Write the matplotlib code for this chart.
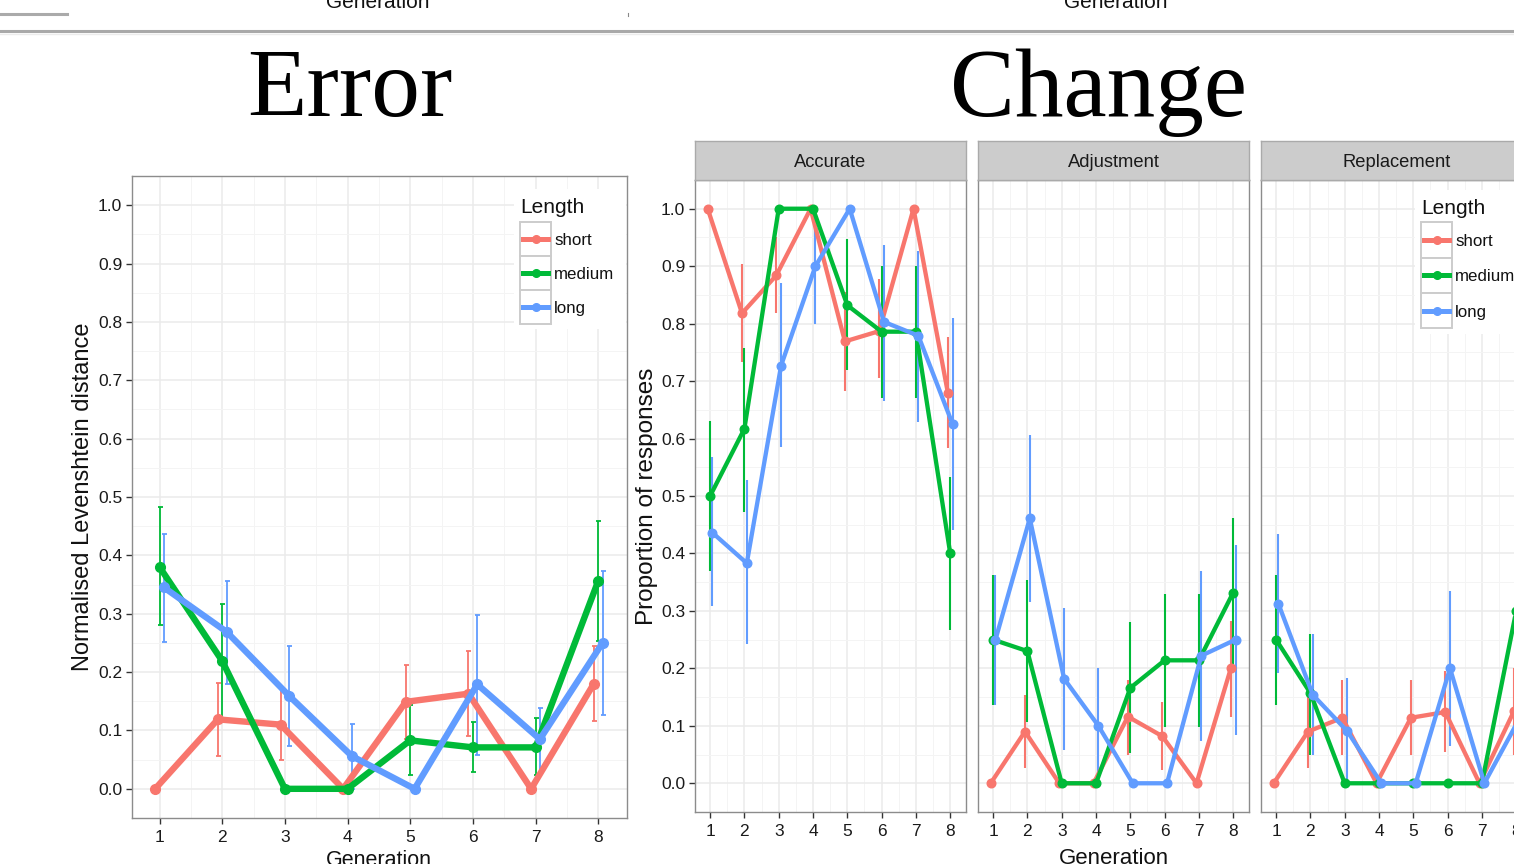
import numpy as np
import matplotlib
matplotlib.use("Agg")
import matplotlib.pyplot as plt
from matplotlib.patches import Rectangle
from matplotlib.lines import Line2D

nan = np.nan

# ---------------------------------------------------------------- data
generations = [1, 2, 3, 4, 5, 6, 7, 8]
length_levels = ["short", "medium", "long"]
length_colors = ["#F8766D", "#00BA38", "#619CFF"]
facet_names = ["Accurate", "Adjustment", "Replacement"]

# Error: normalised Levenshtein distance per generation
error_short = [0.0, 0.119, 0.110, 0.0, 0.149, 0.163, 0.0, 0.180]
error_short_lo = [nan, 0.057, 0.049, nan, 0.086, 0.090, nan, 0.116]
error_short_hi = [nan, 0.182, 0.173, nan, 0.212, 0.236, nan, 0.245]
error_medium = [0.380, 0.219, 0.0, 0.0, 0.083, 0.071, 0.071, 0.356]
error_medium_lo = [0.280, 0.121, nan, nan, 0.023, 0.029, 0.023, 0.253]
error_medium_hi = [0.483, 0.316, nan, nan, 0.143, 0.114, 0.121, 0.459]
error_long = [0.345, 0.269, 0.159, 0.056, 0.0, 0.179, 0.085, 0.250]
error_long_lo = [0.251, 0.180, 0.074, 0.0, nan, 0.058, 0.027, 0.127]
error_long_hi = [0.437, 0.356, 0.245, 0.111, nan, 0.298, 0.139, 0.373]

# Change: proportion of responses, one facet per change type
accurate_short = [1.0, 0.818, 0.884, 1.0, 0.769, 0.787, 1.0, 0.680]
accurate_short_lo = [nan, 0.734, 0.819, nan, 0.683, 0.706, nan, 0.583]
accurate_short_hi = [nan, 0.904, 0.950, nan, 0.855, 0.878, nan, 0.777]
accurate_medium = [0.500, 0.617, 1.0, 1.0, 0.832, 0.786, 0.786, 0.400]
accurate_medium_lo = [0.370, 0.473, nan, nan, 0.720, 0.670, 0.670, 0.267]
accurate_medium_hi = [0.631, 0.757, nan, nan, 0.948, 0.901, 0.901, 0.533]
accurate_long = [0.436, 0.383, 0.727, 0.900, 1.0, 0.803, 0.779, 0.625]
accurate_long_lo = [0.308, 0.242, 0.585, 0.799, nan, 0.666, 0.629, 0.440]
accurate_long_hi = [0.568, 0.527, 0.870, 1.0, nan, 0.936, 0.927, 0.809]

adjustment_short = [0.0, 0.090, 0.0, 0.0, 0.116, 0.082, 0.0, 0.200]
adjustment_short_lo = [nan, 0.026, nan, nan, 0.049, 0.023, nan, 0.116]
adjustment_short_hi = [nan, 0.154, nan, nan, 0.180, 0.142, nan, 0.282]
adjustment_medium = [0.250, 0.230, 0.0, 0.0, 0.166, 0.214, 0.214, 0.332]
adjustment_medium_lo = [0.136, 0.107, nan, nan, 0.052, 0.098, 0.098, 0.205]
adjustment_medium_hi = [0.362, 0.354, nan, nan, 0.280, 0.329, 0.329, 0.461]
adjustment_long = [0.250, 0.461, 0.182, 0.100, 0.0, 0.0, 0.222, 0.250]
adjustment_long_lo = [0.136, 0.316, 0.058, 0.0, nan, nan, 0.073, 0.084]
adjustment_long_hi = [0.362, 0.606, 0.305, 0.200, nan, nan, 0.370, 0.414]

replacement_short = [0.0, 0.090, 0.114, 0.0, 0.114, 0.124, 0.0, 0.125]
replacement_short_lo = [nan, 0.026, 0.049, nan, 0.049, 0.054, nan, 0.050]
replacement_short_hi = [nan, 0.154, 0.180, nan, 0.180, 0.195, nan, 0.200]
replacement_medium = [0.250, 0.157, 0.0, 0.0, 0.0, 0.0, 0.0, 0.300]
replacement_medium_lo = [0.136, 0.049, nan, nan, nan, nan, nan, 0.180]
replacement_medium_hi = [0.362, 0.259, nan, nan, nan, nan, nan, 0.420]
replacement_long = [0.312, 0.154, 0.091, 0.0, 0.0, 0.200, 0.0, 0.110]
replacement_long_lo = [0.192, 0.049, 0.0, nan, nan, 0.065, nan, 0.040]
replacement_long_hi = [0.434, 0.259, 0.183, nan, nan, 0.334, nan, 0.190]

error_series = [
    (error_short, error_short_lo, error_short_hi),
    (error_medium, error_medium_lo, error_medium_hi),
    (error_long, error_long_lo, error_long_hi),
]
change_series = {
    "Accurate": [
        (accurate_short, accurate_short_lo, accurate_short_hi),
        (accurate_medium, accurate_medium_lo, accurate_medium_hi),
        (accurate_long, accurate_long_lo, accurate_long_hi),
    ],
    "Adjustment": [
        (adjustment_short, adjustment_short_lo, adjustment_short_hi),
        (adjustment_medium, adjustment_medium_lo, adjustment_medium_hi),
        (adjustment_long, adjustment_long_lo, adjustment_long_hi),
    ],
    "Replacement": [
        (replacement_short, replacement_short_lo, replacement_short_hi),
        (replacement_medium, replacement_medium_lo, replacement_medium_hi),
        (replacement_long, replacement_long_lo, replacement_long_hi),
    ],
}

# ---------------------------------------------------------------- layout helpers
W, H = 1514, 864
SANS = "Liberation Sans"
SERIF = "Liberation Serif"
plt.rcParams["font.family"] = [SANS, "DejaVu Sans"]

fig = plt.figure(figsize=(W / 100, H / 100), dpi=100)
fig.patch.set_facecolor("white")


def fx(x):
    return x / W


def fy(y):
    return 1 - y / H


def panel(left, top, right, bottom):
    return fig.add_axes([fx(left), fy(bottom), (right - left) / W, (bottom - top) / H])


def style_panel(ax, ylabels=True):
    ax.set_xlim(0.56, 8.46)
    ax.set_ylim(-0.05, 1.05)
    ax.set_xticks(generations)
    ax.set_xticks(np.arange(1.5, 8.0, 1.0), minor=True)
    ax.set_yticks(np.round(np.arange(0, 1.01, 0.1), 2))
    ax.set_yticks(np.round(np.arange(0.05, 1.0, 0.1), 2), minor=True)
    ax.grid(which="major", color="#EBEBEB", lw=1.1)
    ax.grid(which="minor", color="#F4F4F4", lw=0.7)
    ax.set_axisbelow(True)
    ax.tick_params(which="minor", length=0)
    ax.tick_params(which="major", length=4, width=1.0, color="#333333",
                   labelsize=12.5, labelcolor="#1A1A1A", pad=3)
    ax.tick_params(axis="x", pad=5)
    if ylabels:
        ax.set_yticklabels([f"{v:.1f}" for v in ax.get_yticks()])
    else:
        ax.tick_params(axis="y", left=False, labelleft=False)
    for s in ax.spines.values():
        s.set_color("#8C8C8C")
        s.set_linewidth(1.0)


def draw_series(ax, series, dodge, lw, ms, elw, capsize):
    x = np.array(generations, dtype=float)
    offsets = [-dodge, 0.0, dodge]
    for (vals, lo, hi), col, off in zip(series, length_colors, offsets):
        v = np.array(vals)
        lo = np.array(lo)
        hi = np.array(hi)
        ok = ~np.isnan(lo)
        ax.errorbar(x[ok] + off, v[ok], yerr=[v[ok] - lo[ok], hi[ok] - v[ok]],
                    fmt="none", ecolor=col, elinewidth=elw, capsize=capsize,
                    capthick=elw, zorder=2)
    for (vals, lo, hi), col, off in zip(series, length_colors, offsets):
        ax.plot(x + off, vals, color=col, lw=lw, marker="o", ms=ms,
                solid_capstyle="round", solid_joinstyle="round", zorder=3,
                clip_on=True)


def draw_legend(x0, title_base, rows_top, row_h, bg_right):
    fig.add_artist(Rectangle((fx(x0 - 6), fy(rows_top + 3 * row_h + 5)),
                             (bg_right - x0 + 6) / W, (rows_top + 3 * row_h + 5 - (title_base - 24)) / H,
                             transform=fig.transFigure, facecolor="white",
                             edgecolor="none", zorder=5))
    fig.text(fx(x0), fy(title_base), "Length", fontsize=15, color="#111111",
             va="baseline", ha="left", zorder=6)
    for i, (name, col) in enumerate(zip(length_levels, length_colors)):
        top = rows_top + i * row_h
        fig.add_artist(Rectangle((fx(x0), fy(top + row_h)), 31 / W, row_h / H,
                                 transform=fig.transFigure, facecolor="white",
                                 edgecolor="#CCCCCC", lw=1.4, zorder=6))
        yc = fy(top + row_h / 2)
        fig.add_artist(Line2D([fx(x0 + 3), fx(x0 + 28)], [yc, yc], color=col, lw=3.6,
                              transform=fig.transFigure, zorder=7))
        fig.add_artist(Line2D([fx(x0 + 15.5)], [yc], color=col, marker="o", ms=5.5,
                              transform=fig.transFigure, zorder=7))
        fig.text(fx(x0 + 34), yc - 1.5 / H, name, fontsize=12.2, color="#111111",
                 va="center", ha="left", zorder=7)


# ---------------------------------------------------------------- slide header remnants
fig.text(fx(378), fy(8), "Generation", fontsize=15, ha="center", va="baseline", color="#111111")
fig.text(fx(1116), fy(8), "Generation", fontsize=15, ha="center", va="baseline", color="#111111")
fig.add_artist(Line2D([0, fx(67)], [fy(14), fy(14)], color="#AAAAAA", lw=2.2,
                      transform=fig.transFigure))
fig.add_artist(Line2D([fx(628), fx(628)], [fy(12.5), fy(16)], color="#888888", lw=0.8,
                      transform=fig.transFigure))
fig.add_artist(Line2D([0, 1], [fy(31), fy(31)], color="#A9A9A9", lw=2.2,
                      transform=fig.transFigure))
fig.add_artist(Line2D([0, 1], [fy(33.5), fy(33.5)], color="#ECECEC", lw=1.0,
                      transform=fig.transFigure))

# ---------------------------------------------------------------- titles
fig.text(fx(350), fy(116), "Error", fontfamily=SERIF, fontsize=70, ha="center",
         va="baseline", color="black")
fig.text(fx(1098), fy(116), "Change", fontfamily=SERIF, fontsize=70, ha="center",
         va="baseline", color="black")

# ---------------------------------------------------------------- Error panel
ax_err = panel(132, 176, 627, 818)
style_panel(ax_err)
draw_series(ax_err, error_series, dodge=0.07, lw=4.6, ms=7.0, elw=1.3, capsize=1.8)
ax_err.set_ylabel("Normalised Levenshtein distance", fontsize=17, color="#111111", labelpad=3)
fig.text(fx(379), fy(866), "Generation", fontsize=15.5, ha="center", va="baseline", color="#111111")
draw_legend(520, 213, 222, 34, 626)

# ---------------------------------------------------------------- Change facets
facet_bounds = [(695, 966), (978, 1249), (1261, 1532)]
for k, (name, (l, r)) in enumerate(zip(facet_names, facet_bounds)):
    ax = panel(l, 180, r, 812)
    style_panel(ax, ylabels=(k == 0))
    draw_series(ax, change_series[name], dodge=0.07, lw=3.1, ms=6.2, elw=1.5, capsize=0)
    strip = panel(l, 141, r, 180)
    strip.set_facecolor("#CCCCCC")
    strip.set_xticks([])
    strip.set_yticks([])
    for s in strip.spines.values():
        s.set_color("#AAAAAA")
        s.set_linewidth(1.0)
    strip.text(0.5, 0.45, name, transform=strip.transAxes, ha="center", va="center",
               fontsize=13.2, color="#1A1A1A")
    if k == 0:
        ax.set_ylabel("Proportion of responses", fontsize=17.5, color="#111111", labelpad=2)

fig.text(fx(1114), fy(864), "Generation", fontsize=16, ha="center", va="baseline", color="#111111")
draw_legend(1421, 214, 222, 35.5, 1520)

fig.savefig("out.png", dpi=100)
